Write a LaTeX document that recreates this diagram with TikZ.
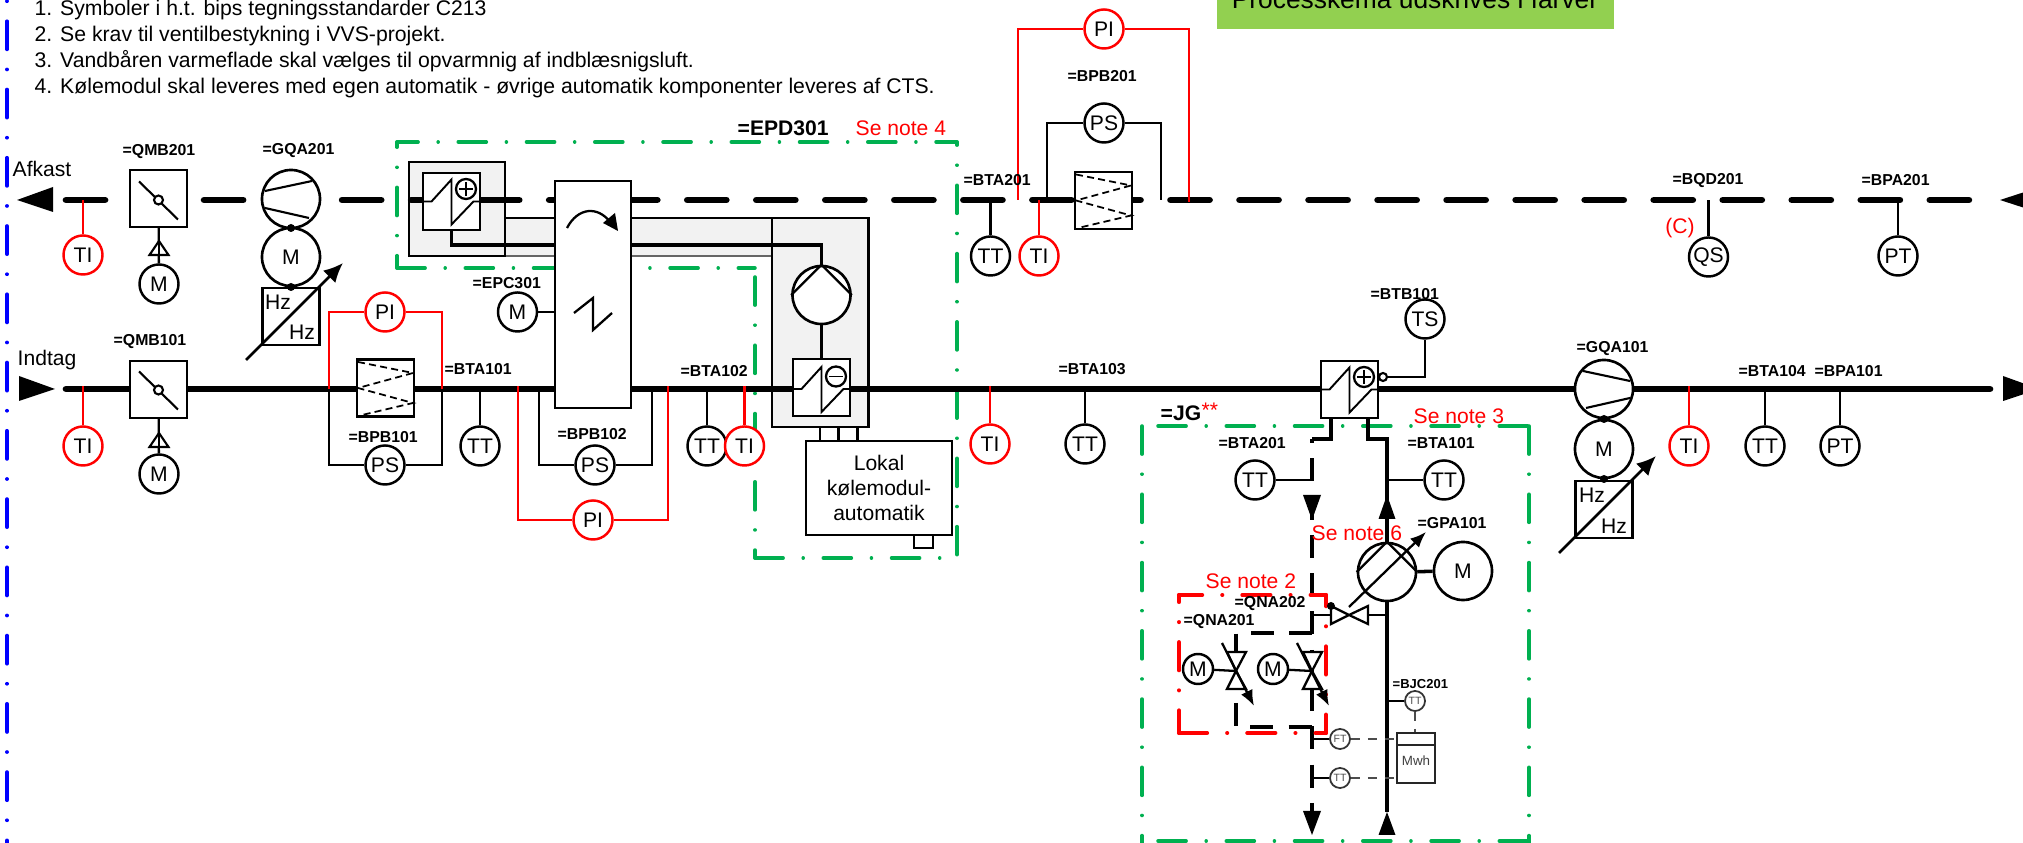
\documentclass[tikz,border=0pt]{standalone}
\usepackage{fontspec}
\setmainfont{Liberation Sans}
\usetikzlibrary{calc, arrows.meta}

\definecolor{frame_green}{HTML}{00B050}
\definecolor{sheet_green}{HTML}{92D050}
\definecolor{unit_gray}{HTML}{F2F2F2}

\begin{document}
\begin{tikzpicture}[
x=0.01cm, y=-0.01cm,
font=\fontsize{6}{7.2}\selectfont,
instr/.style={circle, draw, fill=white, minimum size=0.39cm, inner sep=0pt, line width=0.7pt},
instr_red/.style={instr, draw=red},
instr_small/.style={circle, draw=black!80, fill=white, minimum size=0.2cm, inner sep=0pt, line width=0.5pt, font=\fontsize{3}{3}\selectfont, text=black!70},
rotor/.style={circle, draw, fill=white, minimum size=0.58cm, inner sep=0pt, line width=0.75pt},
sq_box/.style={rectangle, draw, fill=white, minimum size=0.57cm, inner sep=0pt, line width=0.7pt},
dot_link/.style={circle, fill=black, minimum size=0.08cm, inner sep=0pt},
tag/.style={anchor=west, inner sep=0pt, font=\fontsize{4.5}{5}\selectfont\bfseries},
tag_big/.style={anchor=west, inner sep=0pt, font=\fontsize{6}{7}\selectfont\bfseries},
tag_small/.style={anchor=west, inner sep=0pt, font=\fontsize{3.7}{4}\selectfont\bfseries},
plain_note/.style={anchor=base west, inner sep=0pt, font=\fontsize{6.03}{7.2}\selectfont},
red_note/.style={anchor=west, inner sep=0pt, text=red},
stem_line/.style={line width=0.65pt},
sensor_line/.style={line width=0.65pt},
red_line/.style={line width=0.65pt, draw=red},
thin_line/.style={line width=0.65pt},
main_in/.style={line width=1.9pt, line cap=round},
main_out/.style={line width=1.9pt, line cap=round, dash pattern=on 11.1pt off 8.53pt},
water_line/.style={line width=1pt},
water_dash/.style={line width=1pt, dash pattern=on 6.54pt off 4.35pt},
meter_dash/.style={line width=0.45pt, draw=black!70, dash pattern=on 2.6pt off 2.2pt},
adjust_arrow/.style={line width=0.8pt, -{Latex[length=5.5pt,width=5pt]}},
valve_arrow/.style={line width=0.65pt, -{Latex[length=4.5pt,width=3.6pt]}},
frame_line/.style={line width=1pt, line cap=round, draw=frame_green, dash pattern=on 8pt off 5.7pt on 0.01pt off 5.7pt},
frame_red/.style={frame_line, line width=1.15pt, draw=red},
frame_blue/.style={frame_line, line width=1.05pt, draw=blue},
coil_zig/.pic={\draw[line width=0.55pt] (-28.5,0)--(-20,0)--(0,-22)--(0,23)--(22,0)--(28.5,0);},
coil_plus/.pic={\pic {coil_zig}; \draw[line width=0.65pt] (14.5,-12.5) circle (10); \draw[line width=0.55pt] (7.5,-12.5)--(21.5,-12.5) (14.5,-19.5)--(14.5,-5.5);},
coil_minus/.pic={\pic {coil_zig}; \draw[line width=0.65pt] (14.5,-12.5) circle (10); \draw[line width=0.55pt] (7.5,-12.5)--(21.5,-12.5);},
filter_zig/.pic={\draw[line width=0.5pt, dash pattern=on 2pt off 1.2pt] (-27.5,-26)--(27.5,-15)--(-27.5,0)--(27.5,15)--(-23.5,27);},
damper_cut/.pic={\draw[line width=0.6pt] (-19.5,-18.5)--(19.5,19.5); \draw[line width=0.6pt, fill=white] (0,0) circle (4.5);},
fan_lines/.pic={\draw[line width=0.6pt] (-21,-18)--(26,-8) (-18,19)--(26,9);},
drive_tri/.pic={\draw[line width=0.6pt, fill=white] (0,0)--(-9.5,14)--(9.5,14)--cycle;},
]

\useasboundingbox (0,0) rectangle (2023,843);

% frames
\draw[frame_blue] (7,-47)--(7,850);
\draw[frame_line, dash phase=2pt] (397,142)--(957,142);
\draw[frame_line, dash phase=7.1pt] (957,142)--(957,558);
\draw[frame_line, dash phase=6.5pt] (397,142)--(397,268);
\draw[frame_line] (397,268)--(755,268);
\draw[frame_line] (755,277)--(755,558);
\draw[frame_line] (755,558)--(957,558);
\draw[frame_line] (1158,426)--(1529,426);
\draw[frame_line] (1529,426)--(1529,850);
\draw[frame_line] (1142,426)--(1142,850);
\draw[frame_line] (1158,841)--(1529,841);

\node[fill=sheet_green, minimum width=3.97cm, minimum height=0.6cm, inner sep=0pt] at (1415.5,-1) (sheet_box) {};
\node[anchor=base, inner sep=0pt, font=\fontsize{7.5}{8}\selectfont] at (1415,9) (sheet_txt) {Processkema udskrives i farver};

\node[plain_note] at (34,15.5) (note_1) {1. Symboler i h.t. bips tegningsstandarder C213};
\node[plain_note] at (34,41.5) (note_2) {2. Se krav til ventilbestykning i VVS-projekt.};
\node[plain_note] at (34,67.5) (note_3) {3. Vandbåren varmeflade skal vælges til opvarmnig af indblæsnigsluft.};
\node[plain_note] at (34,93.5) (note_4) {4. Kølemodul skal leveres med egen automatik - øvrige automatik komponenter leveres af CTS.};

% gray units
\fill[unit_gray] (505,218) rectangle (555,256);
\fill[unit_gray] (631,218) rectangle (772,256);
\draw[thin_line] (505,218)--(555,218) (631,218)--(772,218);
\draw[thin_line, draw=black!60] (505,256)--(555,256) (631,256)--(772,256);
\draw[thin_line, fill=unit_gray] (409,162) rectangle (505,256);
\draw[thin_line, fill=unit_gray] (772,218) rectangle (868.5,427);

% ducts
\coordinate (out_l) at (66,200);
\coordinate (out_r) at (1973,200);
\coordinate (in_l) at (66,389);
\coordinate (in_r) at (1990,389);
\draw[main_out] (out_l)--(out_r);
\draw[main_in] (in_l)--(in_r);
\fill (17,200)--(53,187)--(53,212)--cycle;
\fill (2000,200)--(2040,187)--(2040,213)--cycle;
\fill (19,376)--(55,389)--(19,401)--cycle;
\fill (2003,376)--(2039,389)--(2003,401)--cycle;

\node[inner sep=0pt, anchor=west] at (12,169) (afkast) {Afkast};
\node[inner sep=0pt, anchor=base west] at (17,366) (indtag) {Indtag};

% dampers
\node[sq_box] at (158.5,198.5) (qmb201) {};
\pic at (158.5,200) {damper_cut};
\node[instr] at (159,284) (m_qmb201) {M};
\draw[stem_line] (qmb201)--(m_qmb201);
\pic at (159,241) {drive_tri};
\draw[stem_line] (159,241)--(159,255);
\node[sq_box] at (158.5,389.5) (qmb101) {};
\pic at (158.5,390) {damper_cut};
\node[instr] at (159,474) (m_qmb101) {M};
\draw[stem_line] (qmb101)--(m_qmb101);
\pic at (159,433) {drive_tri};
\draw[stem_line] (159,433)--(159,447);

% fans
\node[rotor] at (291,199) (gqa201) {};
\pic[xscale=-1] at (291,199) {fan_lines};
\node[rotor] at (291,257) (m_gqa201) {M};
\node[dot_link] at (291,228) (dot_gqa201a) {};
\node[dot_link] at (291,287) (dot_gqa201b) {};
\node[sq_box, fill=none] at (291,316.5) (hz_gqa201) {};
\node[inner sep=0pt] at (278,302) (hz_a201) {Hz};
\node[inner sep=0pt] at (302,332) (hz_b201) {Hz};
\coordinate (adj_a201) at (246,360);
\coordinate (adj_b201) at (343,263);
\draw[adjust_arrow] (adj_a201)--(adj_b201);

\node[rotor] at (1604,389) (gqa101) {};
\pic at (1604,389) {fan_lines};
\node[rotor] at (1604,449) (m_gqa101) {M};
\node[dot_link] at (1604,419) (dot_gqa101a) {};
\node[dot_link] at (1604,479) (dot_gqa101b) {};
\node[sq_box, fill=none] at (1604,509.5) (hz_gqa101) {};
\node[inner sep=0pt] at (1592,495) (hz_a101) {Hz};
\node[inner sep=0pt] at (1614,526) (hz_b101) {Hz};
\coordinate (adj_a101) at (1559,553);
\coordinate (adj_b101) at (1656,456);
\draw[adjust_arrow] (adj_a101)--(adj_b101);

% filters
\coordinate (tap_a) at (329,389);
\coordinate (tap_b) at (442,389);
\coordinate (tap_c) at (539,389);
\coordinate (tap_d) at (652,389);
\coordinate (tap_e) at (518,386);
\coordinate (tap_f) at (668,386);
\coordinate (tap_g) at (1047,200);
\coordinate (tap_h) at (1161,200);
\coordinate (tap_i) at (1018,200);
\coordinate (tap_j) at (1189,202);

\node[sq_box] at (385.5,388) (bpb101) {};
\pic at (385.5,388) {filter_zig};
\node[instr_red] at (385,312) (pi_bpb101) {PI};
\node[instr] at (385,465) (ps_bpb101) {PS};
\draw[sensor_line] (tap_a) |- (ps_bpb101);
\draw[sensor_line] (ps_bpb101) -| (tap_b);
\draw[red_line] (tap_a) |- (pi_bpb101);
\draw[red_line] (pi_bpb101) -| (tap_b);

\node[instr] at (595,465) (ps_bpb102) {PS};
\node[instr_red] at (593,520) (pi_bpb102) {PI};
\draw[sensor_line] (tap_c) |- (ps_bpb102);
\draw[sensor_line] (ps_bpb102) -| (tap_d);
\draw[red_line] (tap_e) |- (pi_bpb102);
\draw[red_line] (pi_bpb102) -| (tap_f);

\node[sq_box] at (1103.5,200.5) (bpb201) {};
\pic at (1103.5,200.5) {filter_zig};
\node[instr] at (1104,123) (ps_bpb201) {PS};
\node[instr_red] at (1104,29) (pi_bpb201) {PI};
\draw[sensor_line] (tap_g) |- (ps_bpb201);
\draw[sensor_line] (ps_bpb201) -| (tap_h);
\draw[red_line] (tap_i) |- (pi_bpb201);
\draw[red_line] (pi_bpb201) -| (tap_j);

% cooling and heating module
\node[sq_box, fill=white] at (451.5,201.5) (coil_heat) {};
\pic at (451.5,201.5) {coil_plus};
\node[rotor] at (821.5,295) (pump_cool) {};
\node[sq_box] at (821.5,387.5) (coil_cool) {};
\pic at (821.5,389) {coil_minus};
\coordinate (bend_heat) at (451.5,245);
\coordinate (bend_cool) at (821.5,245);
\draw[water_line] (coil_heat.south)--(bend_heat)--(bend_cool)--(pump_cool.north);
\draw[water_line] (pump_cool)--(coil_cool);
\draw[stem_line] (pump_cool.north)--(pump_cool.west) (pump_cool.north)--(pump_cool.east);

\node[rectangle, draw, fill=white, minimum width=0.76cm, minimum height=2.27cm, inner sep=0pt, line width=0.7pt] at (593,294.5) (wheel) {};
\draw[stem_line] (567,228) .. controls (578,207) and (598,206) .. (610,222);
\fill (618,231)--(603,223)--(615,213)--cycle;
\draw[stem_line] (574,313)--(593,298)--(593,330)--(612,313);
\node[instr] at (517.5,312) (m_epc301) {M};
\draw[stem_line] (m_epc301)--(m_epc301 -| wheel.west);

\node[rectangle, draw, fill=white, minimum width=1.46cm, minimum height=0.94cm, inner sep=0pt, line width=0.6pt, align=center] at (879,488) (auto_box) {Lokal\\kølemodul-\\automatik};
\node[rectangle, draw, minimum width=0.19cm, minimum height=0.13cm, inner sep=0pt, line width=0.6pt] at (923.5,541.5) (auto_foot) {};
\draw[stem_line] (820,427)--(820,441) (838.5,427)--(838.5,441) (857.5,427)--(857.5,441);

% instruments on the ducts
\node[instr_red] at (83,255) (ti_afkast) {TI};
\node[instr_red] at (83,446) (ti_indtag) {TI};
\node[instr] at (480,446) (tt_bta101) {TT};
\node[instr] at (707,446) (tt_bta102) {TT};
\node[instr_red] at (744.5,446) (ti_bta102) {TI};
\node[instr_red] at (990,444) (ti_bta103) {TI};
\node[instr] at (1085,444) (tt_bta103) {TT};
\node[instr_red] at (1689,446) (ti_bta104) {TI};
\node[instr] at (1765,446) (tt_bta104) {TT};
\node[instr] at (1840,446) (pt_bpa101) {PT};
\node[instr] at (990.5,256) (tt_bta201) {TT};
\node[instr_red] at (1039,256) (ti_bta201) {TI};
\node[instr] at (1708.5,257) (qs_bqd201) {QS};
\node[instr] at (1898,256) (pt_bpa201) {PT};

\draw[red_line] (ti_afkast)--(ti_afkast |- out_l);
\draw[red_line] (ti_indtag)--(ti_indtag |- tap_e);
\draw[stem_line] (tt_bta101)--(tt_bta101 |- in_l);
\draw[stem_line] (tt_bta102)--(tt_bta102 |- in_l);
\draw[red_line] (ti_bta102)--(ti_bta102 |- tap_e);
\draw[red_line] (ti_bta103)--(ti_bta103 |- tap_e);
\draw[stem_line] (tt_bta103)--(tt_bta103 |- in_l);
\draw[red_line] (ti_bta104)--(ti_bta104 |- tap_e);
\draw[stem_line] (tt_bta104)--(tt_bta104 |- in_l);
\draw[stem_line] (pt_bpa101)--(pt_bpa101 |- in_l);
\draw[stem_line] (tt_bta201)--(tt_bta201 |- out_l);
\draw[red_line] (ti_bta201)--(ti_bta201 |- out_l);
\draw[stem_line] (qs_bqd201)--(qs_bqd201 |- out_l);
\draw[stem_line] (pt_bpa201)--(pt_bpa201 |- out_l);

\node[inner sep=0pt, text=red] at (1680,228) (note_c) {(C)};

% tags
\node[tag] at (122,152) (t_qmb201) {=QMB201};
\node[tag] at (262,151) (t_gqa201) {=GQA201};
\node[tag] at (113,342) (t_qmb101) {=QMB101};
\node[tag] at (444,369) (t_bta101) {=BTA101};
\node[tag] at (348,437) (t_bpb101) {=BPB101};
\node[tag] at (472,283) (t_epc301) {=EPC301};
\node[tag] at (557,434) (t_bpb102) {=BPB102};
\node[tag] at (680,371) (t_bta102) {=BTA102};
\node[tag] at (963,180) (t_bta201) {=BTA201};
\node[tag] at (1067,76) (t_bpb201) {=BPB201};
\node[tag] at (1672,181) (t_bqd201) {=BQD201};
\node[tag] at (1861,180) (t_bpa201) {=BPA201};
\node[tag] at (1058,369) (t_bta103) {=BTA103};
\node[tag] at (1370,294) (t_btb101) {=BTB101};
\node[tag] at (1576,349) (t_gqa101) {=GQA101};
\node[tag] at (1738,371) (t_bta104) {=BTA104};
\node[tag] at (1814,371) (t_bpa101) {=BPA101};
\node[tag_big] at (737,128) (t_epd301) {=EPD301};
\node[red_note] at (855,128) (note_se4) {Se note 4};
\node[tag_big] at (1160,413) (t_jg) {=JG};
\node[inner sep=0pt, anchor=west, text=red, font=\fontsize{6}{7}\selectfont] at (1201,410) (t_jgstar) {**};
\node[red_note] at (1413,416) (note_se3) {Se note 3};

% water loop
\node[sq_box] at (1349.5,389.5) (coil_jg) {};
\pic at (1349.5,389.5) {coil_plus};
\node[instr] at (1425,319) (ts_btb101) {TS};
\node[circle, draw, fill=white, minimum size=0.08cm, inner sep=0pt, line width=0.6pt] at (1383,377) (ts_link) {};
\coordinate (ts_bend) at (1425,377);
\draw[stem_line] (ts_btb101)--(ts_bend)--(ts_link);

\coordinate (ret_top) at (1312,439);
\coordinate (ret_end) at (1312,812);
\coordinate (sup_top) at (1387,439);
\coordinate (sup_end) at (1387,812);
\draw[water_line] (1331,418)--(1331,439)--(ret_top);
\draw[water_line] (1368,418)--(1368,439)--(sup_top)--(sup_end);
\draw[water_dash, dash phase=5.4pt] (ret_top)--(ret_end);
\fill (1312,520)--(1303,495)--(1321,495)--cycle;
\fill (1312,835)--(1303,811)--(1321,811)--cycle;
\fill (1387,495)--(1378.5,519)--(1395.5,519)--cycle;
\fill (1387,812)--(1378.5,835)--(1395.5,835)--cycle;

\node[instr] at (1255,480) (tt_ret) {TT};
\node[instr] at (1444,480) (tt_sup) {TT};
\draw[stem_line] (tt_ret)--(tt_ret -| ret_top);
\draw[stem_line] (tt_sup)--(tt_sup -| sup_top);

\draw[frame_red, dash phase=1.4pt] (1179,595)--(1326,595);
\draw[frame_red, dash phase=6pt] (1179,595)--(1179,733);
\draw[frame_red, dash phase=4.8pt] (1326,595)--(1326,733);
\draw[frame_red] (1179,733)--(1326,733);

\draw[water_dash] (1312,633)--(1236,633)--(1236,652);
\draw[water_dash] (1236,703)--(1236,727)--(1312,727);

\node[instr, minimum size=0.3cm] at (1198,669) (m_qna201) {M};
\node[instr, minimum size=0.3cm] at (1273,669) (m_qna202) {M};
\coordinate (vlv_a) at (1236,671);
\coordinate (vlv_b) at (1312,671);
\draw[stem_line] (m_qna201)--(vlv_a);
\draw[stem_line] (m_qna202)--(vlv_b);
\draw[stem_line, fill=white] (1227,652)--(1246,652)--(vlv_a)--cycle (1227,689)--(1246,689)--(vlv_a)--cycle;
\draw[stem_line, fill=white] (1303,652)--(1322,652)--(vlv_b)--cycle (1303,689)--(1322,689)--(vlv_b)--cycle;
\draw[valve_arrow] (1222,643)--(1254,706);
\draw[valve_arrow] (1297,643)--(1329,706);

\node[rotor] at (1387,572) (gpa101) {};
\node[rotor] at (1463,571) (m_gpa101) {M};
\draw[water_line] (gpa101)--(m_gpa101);
\draw[stem_line] (gpa101.north)--(gpa101.west) (gpa101.north)--(gpa101.east);
\coordinate (vlv_c) at (1349,615);
\draw[stem_line, fill=white] (1331,606)--(1331,624)--(vlv_c)--cycle (1368,606)--(1368,624)--(vlv_c)--cycle;
\draw[stem_line] (ret_top |- vlv_c)--(1331,615) (1368,615)--(sup_top |- vlv_c);
\node[dot_link] at (1331,606) (dot_vlv) {};
\draw[valve_arrow] (1349,607)--(1426,532);

\node[red_note] at (1311,533) (note_se6) {Se note 6};
\node[red_note] at (1205,581) (note_se2) {Se note 2};
\node[tag] at (1218,443) (t_bta201b) {=BTA201};
\node[tag] at (1407,443) (t_bta101b) {=BTA101};
\node[tag] at (1417,523) (t_gpa101) {=GPA101};
\node[tag] at (1234,604) (t_qna202) {=QNA202};
\node[tag] at (1183,622) (t_qna201) {=QNA201};

% energy meter
\node[rectangle, draw=black!85, fill=white, minimum width=0.38cm, minimum height=0.5cm, inner sep=0pt, line width=0.55pt] at (1416,758) (mwh_box) {};
\draw[line width=0.55pt, draw=black!85] (1397,745)--(1435,745);
\node[inner sep=0pt, text=black!75, font=\fontsize{3.8}{4}\selectfont] at (1416,761) (mwh_txt) {Mwh};
\node[instr_small] at (1415,701) (tt_meter) {TT};
\node[instr_small] at (1340,739) (ft_meter) {FT};
\node[instr_small] at (1340,778) (tt_meter2) {TT};
\draw[stem_line] (tt_meter)--(tt_meter -| sup_top);
\draw[stem_line] (ft_meter)--(ft_meter -| ret_top);
\draw[stem_line] (tt_meter2)--(tt_meter2 -| ret_top);
\draw[meter_dash] (ft_meter)--(ft_meter -| mwh_box.west);
\draw[meter_dash] (tt_meter2)--(tt_meter2 -| mwh_box.west);
\draw[meter_dash] (tt_meter)--(tt_meter |- mwh_box.north);
\node[tag_small] at (1392,684) (t_bjc201) {=BJC201};
\end{tikzpicture}
\end{document}
